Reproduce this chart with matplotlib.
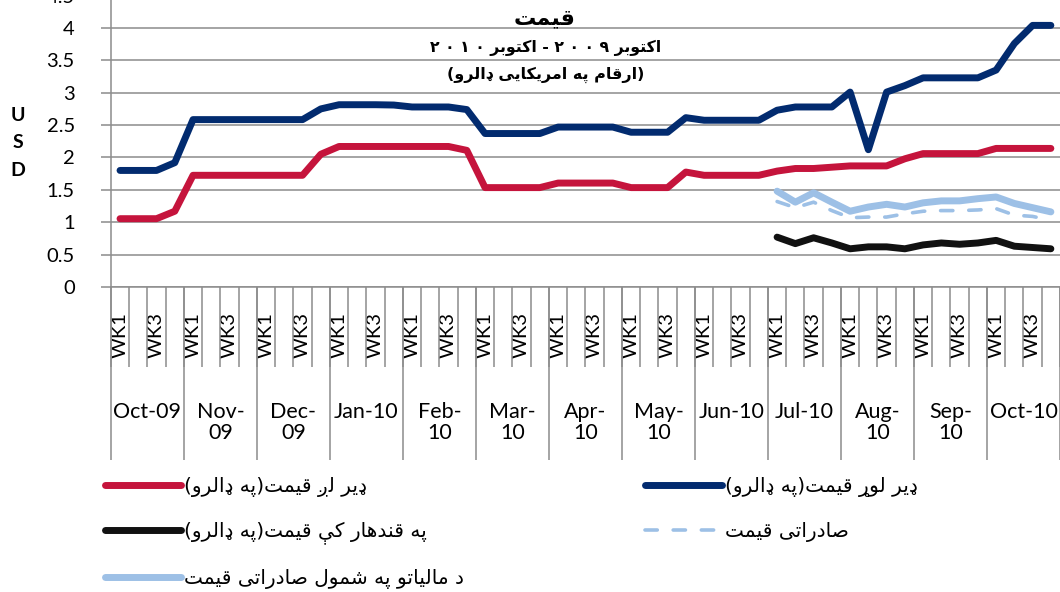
import re
import numpy as np
import matplotlib
matplotlib.use("Agg")
import matplotlib.pyplot as plt

# ---- data ----
months = ["Oct-09", "Nov-09", "Dec-09", "Jan-10", "Feb-10", "Mar-10", "Apr-10",
          "May-10", "Jun-10", "Jul-10", "Aug-10", "Sep-10", "Oct-10"]
month_labels = ["Oct-09", "Nov-\n09", "Dec-\n09", "Jan-10", "Feb-\n10", "Mar-\n10", "Apr-\n10",
                "May-\n10", "Jun-10", "Jul-10", "Aug-\n10", "Sep-\n10", "Oct-10"]
week_labels = ["WK1", "", "WK3", ""]

low_price = [1.055, 1.055, 1.055, 1.17, 1.725, 1.725, 1.725, 1.725,
             1.725, 1.725, 1.725, 2.05, 2.17, 2.17, 2.17, 2.17,
             2.17, 2.17, 2.17, 2.11, 1.535, 1.535, 1.535, 1.535,
             1.605, 1.605, 1.605, 1.605, 1.535, 1.535, 1.535, 1.775,
             1.725, 1.725, 1.725, 1.725, 1.79, 1.83, 1.83, 1.85,
             1.87, 1.87, 1.87, 1.98, 2.06, 2.06, 2.06, 2.06,
             2.14, 2.14, 2.14, 2.14]
high_price = [1.80, 1.80, 1.80, 1.92, 2.585, 2.585, 2.585, 2.585,
              2.585, 2.585, 2.585, 2.75, 2.815, 2.815, 2.815, 2.81,
              2.78, 2.78, 2.78, 2.74, 2.37, 2.37, 2.37, 2.37,
              2.47, 2.47, 2.47, 2.47, 2.39, 2.39, 2.39, 2.615,
              2.575, 2.575, 2.575, 2.575, 2.73, 2.78, 2.78, 2.78,
              3.01, 2.12, 3.01, 3.11, 3.23, 3.23, 3.23, 3.23,
              3.35, 3.76, 4.04, 4.04]
# these three start in Jul-10
kandahar = [0.77, 0.67, 0.76, 0.68, 0.59, 0.62, 0.62, 0.59,
            0.65, 0.68, 0.66, 0.68, 0.72, 0.63, 0.61, 0.59]
export = [1.32, 1.225, 1.31, 1.18, 1.07, 1.08, 1.08, 1.13,
          1.17, 1.18, 1.18, 1.19, 1.21, 1.11, 1.09, 1.03]
export_tax = [1.48, 1.31, 1.455, 1.31, 1.17, 1.235, 1.277, 1.235,
              1.30, 1.33, 1.33, 1.364, 1.39, 1.29, 1.225, 1.16]

t_low = "ډیر لږ قیمت(په ډالرو)"
t_high = "ډیر لوړ قیمت(په ډالرو)"
t_kandahar = "په قندهار کې قیمت(په ډالرو)"
t_export = "صادراتی قیمت"
t_export_tax = "د مالیاتو په شمول صادراتی قیمت"
title1 = "قیمت"
title2 = "اکتوبر ۲۰۰۹ - اکتوبر ۲۰۱۰"
title3 = "(ارقام په امریکایی ډالرو)"

# ---- tiny arabic shaper (no arabic_reshaper / bidi here) ----
FORMS = {
    "ا": ("\uFE8D", "\uFE8E"), "ب": ("\uFE8F", "\uFE90", "\uFE91", "\uFE92"),
    "پ": ("\uFB56", "\uFB57", "\uFB58", "\uFB59"), "ت": ("\uFE95", "\uFE96", "\uFE97", "\uFE98"),
    "د": ("\uFEA9", "\uFEAA"), "ډ": ("\u0689", "\u0689"), "ر": ("\uFEAD", "\uFEAE"),
    "ړ": ("\u0693", "\u0693"), "ږ": ("\u0696", "\u0696"),
    "ش": ("\uFEB5", "\uFEB6", "\uFEB7", "\uFEB8"), "ص": ("\uFEB9", "\uFEBA", "\uFEBB", "\uFEBC"),
    "ق": ("\uFED5", "\uFED6", "\uFED7", "\uFED8"), "ک": ("\uFB8E", "\uFB8F", "\uFB90", "\uFB91"),
    "ل": ("\uFEDD", "\uFEDE", "\uFEDF", "\uFEE0"), "م": ("\uFEE1", "\uFEE2", "\uFEE3", "\uFEE4"),
    "ن": ("\uFEE5", "\uFEE6", "\uFEE7", "\uFEE8"), "ه": ("\uFEE9", "\uFEEA", "\uFEEB", "\uFEEC"),
    "و": ("\uFEED", "\uFEEE"), "ی": ("\uFBFC", "\uFBFD", "\uFBFE", "\uFBFF"),
    "ې": ("\uFBE4", "\uFBE5", "\uFBE6", "\uFBE7"),
}


def rtl(s, spaced_digits=False):
    s = s.replace("\u064a", "\u06cc").replace("\u0643", "\u06a9")
    out = []
    for i, c in enumerate(s):
        if c not in FORMS:
            out.append(c)
            continue
        f = FORMS[c]
        prev = s[i - 1] if i > 0 else ""
        nxt = s[i + 1] if i + 1 < len(s) else ""
        pj = prev in FORMS and len(FORMS[prev]) == 4
        nj = nxt in FORMS and len(f) == 4
        if pj and nj:
            out.append(f[3])
        elif pj:
            out.append(f[1])
        elif nj:
            out.append(f[2])
        else:
            out.append(f[0])
    v = "".join(out)[::-1].translate({ord("("): ")", ord(")"): "("})
    v = re.sub("[۰-۹]+", lambda m: (" " if spaced_digits else "").join(m.group(0)[::-1]), v)
    return v


plt.rcParams["font.family"] = ["Lato", "DejaVu Sans"]
GRID = "#8c8c8c"
RED = "#c5143c"
NAVY = "#022b6f"
LIGHT = "#9dc0e6"
AR = ["DejaVu Sans"]

fig = plt.figure(figsize=(10.6, 5.92), dpi=100)
ax_left = 110.9 / 1060
ax_bot = 1 - 287 / 592
ax_h = (287 + 4.4) / 592
ax = fig.add_axes([ax_left, ax_bot, 1 - ax_left, ax_h])

n = len(months) * len(week_labels)
x = np.arange(n)
jul = months.index("Jul-10") * len(week_labels)
x2 = np.arange(jul, jul + len(kandahar))

l_low, = ax.plot(x, low_price, color=RED, lw=5, solid_capstyle="round", solid_joinstyle="round")
l_high, = ax.plot(x, high_price, color=NAVY, lw=5, solid_capstyle="round", solid_joinstyle="round")
l_kan, = ax.plot(x2, kandahar, color="#111111", lw=5, solid_capstyle="round", solid_joinstyle="round")
l_exp, = ax.plot(x2, export, color=LIGHT, lw=2.6, dashes=(3.4, 4.4), dash_capstyle="round")
l_tax, = ax.plot(x2, export_tax, color=LIGHT, lw=5, solid_capstyle="round", solid_joinstyle="round")

ax.set_xlim(-0.5, n - 0.5)
ax.set_ylim(0, 4.5)
ax.set_yticks(np.arange(0, 4.51, 0.5))
ax.set_yticklabels(["0", "0.5", "1", "1.5", "2", "2.5", "3", "3.5", "4", "4.5"])
ax.grid(True, axis="y", color=GRID, lw=1.1)
ax.set_axisbelow(True)
for s in ["top", "right"]:
    ax.spines[s].set_visible(False)
for s in ["left", "bottom"]:
    ax.spines[s].set_color(GRID)
    ax.spines[s].set_linewidth(1.1)
ax.tick_params(axis="y", length=7, width=1.1, color=GRID, pad=19, labelsize=14.5)

# week labels, week ticks, month separators
wk_pos = [i for i in range(n) if week_labels[i % 4]]
ax.set_xticks(wk_pos)
ax.set_xticklabels([week_labels[i % 4] for i in wk_pos], rotation=90, fontsize=14.5)
ax.set_xticks(np.arange(n + 1) - 0.5, minor=True)
ax.tick_params(axis="x", which="major", length=0, pad=18)
ax.tick_params(axis="x", which="minor", length=57.6, width=1.1, color=GRID)
axh_px = ax_h * 592
bounds = np.arange(0, n + 1, 4) - 0.5
ax.vlines(bounds, -173 / axh_px, 0, transform=ax.get_xaxis_transform(),
          clip_on=False, color=GRID, lw=1.1)
for m, lab in enumerate(month_labels):
    ax.annotate(lab, xy=(m * 4 + 1.5, 0), xycoords=ax.get_xaxis_transform(),
                xytext=(0, -(402 - 287) * 0.72), textcoords="offset points",
                ha="center", va="top", fontsize=15.5, linespacing=1.05)

fig.text(18 / 1060, 1 - 143 / 592, "U\nS\nD", ha="center", va="center",
         fontweight="bold", fontsize=14, linespacing=1.75)

# titles
fig.text(545 / 1060, 1 - 18 / 592, rtl(title1), ha="center", va="center",
         family=AR, fontweight="bold", fontsize=16)
fig.text(546 / 1060, 1 - 48 / 592, rtl(title2, spaced_digits=True), ha="center", va="center",
         family=AR, fontweight="bold", fontsize=11.3)
fig.text(546 / 1060, 1 - 75 / 592, rtl(title3), ha="center", va="center",
         family=AR, fontweight="bold", fontsize=11.5)

leg = fig.legend([l_low, l_kan, l_tax, l_high, l_exp],
                 [rtl(t_low), rtl(t_kandahar), rtl(t_export_tax), rtl(t_high), rtl(t_export)],
                 loc="upper left", bbox_to_anchor=(105 / 1060, 1 - 477 / 592),
                 ncol=2, frameon=False, borderpad=0, borderaxespad=0,
                 handlelength=3.78, handletextpad=0.15, labelspacing=1.22,
                 columnspacing=9.0, prop={"family": AR, "size": 14.5})

fig.savefig("out.png", dpi=100)
